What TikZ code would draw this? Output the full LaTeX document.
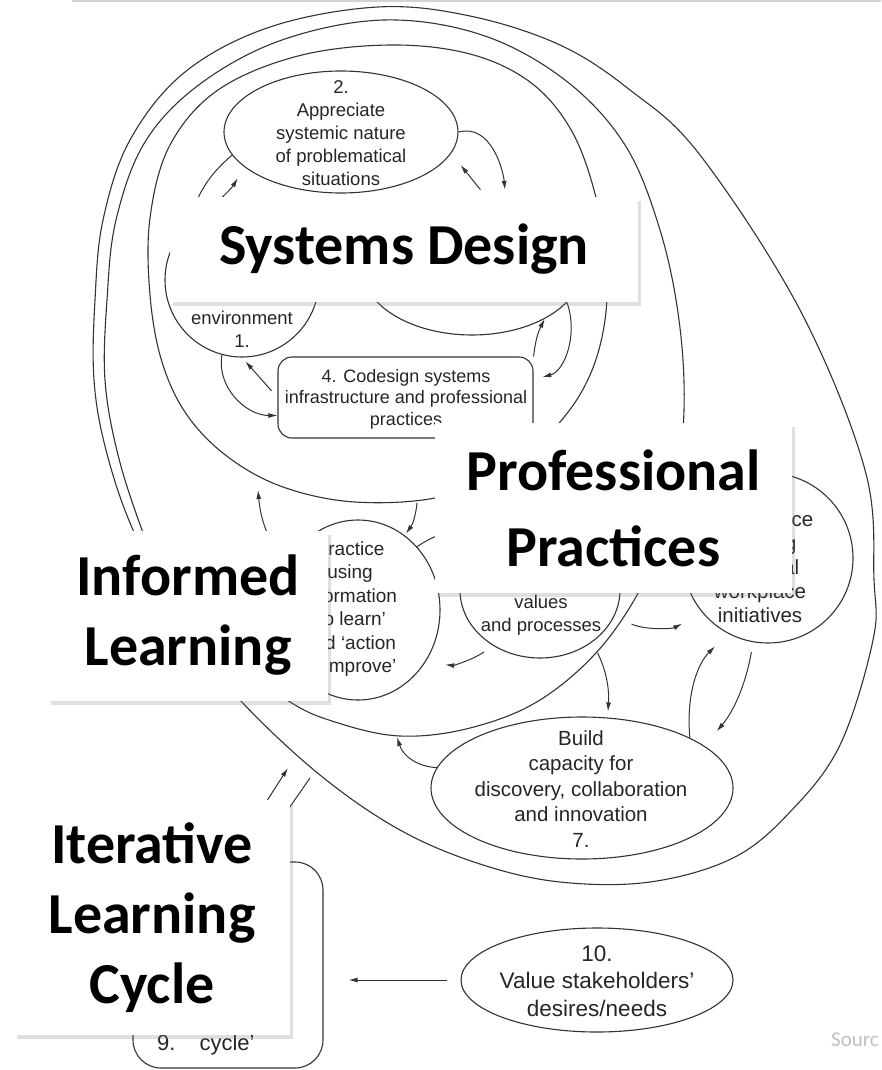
\documentclass[tikz,border=0pt]{standalone}
\usepackage{fontspec}
\setmainfont{Liberation Sans}
\newfontfamily\lblfont{Carlito}
\usetikzlibrary{calc,arrows.meta,shapes.geometric,shadows}

\begin{document}
\begin{tikzpicture}[
  x=1pt,y=-1pt,
  loop/.style={line width=1.1pt,draw=black!80},
  ell/.style={ellipse,draw=black!80,line width=1.1pt,inner sep=0pt,fill=white},
  txt/.style={align=center,text=black!85,inner sep=0pt,font=\fontsize{18.5}{23}\selectfont},
  arr/.style={-{Latex[length=9pt,width=5pt]},line width=1pt,draw=black!80},
  lbl/.style={fill=white,align=center,inner sep=0pt,font=\lblfont\bfseries\fontsize{58}{70}\selectfont,
    drop shadow={shadow xshift=3pt,shadow yshift=-4pt,opacity=0.25}},
  ]

  \clip (0,0) rectangle (881,1070);
  \draw[gray!35,line width=2pt] (72,1) -- (881,1);

  % the three loops
  \draw[loop] plot[smooth cycle,tension=0.6] coordinates {(378,7) (470,16) (560,45) (630,90) (700,155) (800,310) (865,470) (874,580) (873,640) (840,745) (790,812) (733,858) (650,882) (560,882) (480,864) (400,830) (320,775) (240,700) (183,628) (133,530) (106,450) (94,380) (95,300) (103,220) (130,140) (185,72) (270,27)};
  \draw[loop] plot[smooth cycle,tension=0.6] coordinates {(384,20) (482,35) (565,80) (625,145) (660,230) (679,320) (684,410) (674,495) (650,570) (603,645) (540,700) (470,728) (400,736) (335,722) (287,700) (215,645) (165,585) (142,530) (118,455) (105,380) (107,300) (116,220) (145,142) (200,84) (282,40)};
  \draw[loop] plot[smooth cycle,tension=0.6] coordinates {(390,45) (470,54) (530,82) (570,128) (594,190) (606,260) (605,320) (590,375) (560,422) (510,468) (440,497) (355,502) (283,487) (228,457) (187,415) (162,362) (150,295) (150,218) (170,145) (218,90) (298,56)};

  \coordinate (sd_bot) at (417,503);
  \coordinate (sd_left) at (258,490);
  \coordinate (il_bot) at (397,737);
  \coordinate (ilc_in) at (288,768);
  \coordinate (ilc_out) at (310,778);

  % stages
  \node (ell_1) [ell,minimum size=154pt] at (242,280) {};
  \node (txt_1) [txt] at (242,329) {environment\\1.};

  \node (ell_2) [ell,minimum width=234pt,minimum height=122pt] at (341,132) {};
  \node (txt_2) [txt] at (341,133) {2.\\Appreciate\\systemic nature\\of problematical\\situations};

  \node (ell_3) [ell,minimum width=220pt,minimum height=134pt] at (472,268) {};
  \node (txt_3) [txt,anchor=base] at (470,298) {professional processes};

  \node (box_4) [draw=black!80,line width=1.1pt,rounded corners=14pt,minimum width=255pt,minimum height=81pt,inner sep=0pt,fill=white] at (405.5,397.5) {};
  \node (txt_4) [txt,font=\fontsize{18}{21.5}\selectfont] at (406,399) {4. Codesign systems\\infrastructure and professional\\practices};

  \node (ell_5) [ell,minimum width=164pt,minimum height=180pt] at (358,610) {};
  \node (txt_5) [txt,font=\fontsize{19}{23.5}\selectfont] at (350,609) {Practice\\using\\information\\`to learn'\\and `action\\to improve'};

  \node (ell_6) [ell,minimum width=160pt,minimum height=136pt] at (540,590) {};
  \node (txt_6) [txt] at (541,615) {values\\and processes};

  \node (ell_7) [ell,minimum width=302pt,minimum height=142pt] at (582,788) {};
  \node (txt_7) [txt,font=\fontsize{20.5}{25.5}\selectfont] at (581,789) {Build\\capacity for\\discovery, collaboration\\and innovation\\7.};

  \node (ell_8) [ell,minimum size=170pt] at (768,558) {};
  \node (txt_8) [txt,font=\fontsize{20.5}{24}\selectfont] at (760,567) {8. Embrace\\learning\\in formal\\workplace\\initiatives};

  \node (box_9) [draw=black!80,line width=1.1pt,rounded corners=28pt,minimum width=190pt,minimum height=206pt,inner sep=0pt] at (228,965) {};
  \node (txt_9) [txt,font=\fontsize{22}{26}\selectfont,anchor=base west] at (157,1050) {9.\hspace{24pt}cycle'};

  \node (ell_10) [ell,minimum width=272pt,minimum height=104pt] at (597,980) {};
  \node (txt_10) [txt,font=\fontsize{22.5}{27.5}\selectfont] at (597,981) {10.\\Value stakeholders'\\desires/needs};

  % connectors
  \draw[arr,shorten >=14pt] (ell_2.0) to[out=15,in=95] (ell_3.62);
  \draw[arr,shorten <=15pt,shorten >=15pt] (ell_3.75) -- (ell_2.-11);
  \draw[arr] (ell_2.192) to[out=220,in=70] (ell_1.135);
  \draw[arr,shorten >=13pt] (ell_1.118) to[bend right=10] (ell_2.200);
  \draw[arr] (ell_1.-105) to[out=-100,in=180] (box_4.188);
  \draw[arr,shorten <=9pt,shorten >=5pt] (box_4.180) -- (ell_1.-90);
  \draw[arr] (box_4.north east) to[bend left=10] (ell_3.-35);
  \draw[arr,shorten >=9pt] (ell_3.-20) to[out=-70,in=15] (box_4.8);
  \draw[arr,shorten >=2pt] (sd_bot) to[bend left=15] (ell_5.58);
  \draw[arr] (ell_5.150) to[out=120,in=-85] (sd_left);
  \draw[arr] (ell_5.47) to[out=35,in=160] (ell_6.135);
  \draw[arr,shorten <=11pt,shorten >=20pt] (ell_6.230) to[bend left=20] (ell_5.-38);
  \draw[arr,shorten <=19pt,shorten >=23pt] (ell_6.-20) to[bend right=25] (ell_8.220);
  \draw[arr,shorten <=12pt,shorten >=6pt] (ell_6.-45) to[bend left=15] (ell_7.70);
  \draw[arr] (ell_7.172) to[bend left=35] (il_bot);
  \draw[arr,shorten >=18pt] (ell_7.25) to[bend left=25] (ell_8.242);
  \draw[arr,shorten <=10pt,shorten >=19pt] (ell_8.260) to[bend left=15] (ell_7.19);
  \draw[arr] (box_9.north) -- (ilc_in);
  \draw[arr] (ilc_out) -- ($(box_9.north)+(24,0)$);
  \draw[arr,shorten <=13pt,shorten >=25pt] (ell_10.west) -- (ell_10.west -| box_9.east);

  % overlay labels
  \node (lbl_sys) [lbl,minimum width=468pt,minimum height=105pt] at (404,249.5) {Systems Design};
  \node (lbl_pro) [lbl,minimum width=357pt,minimum height=170pt,font=\lblfont\bfseries\fontsize{58}{76}\selectfont] at (613.5,508) {Professional\\Practices};
  \node (lbl_inf) [lbl,minimum width=280pt,minimum height=170pt] at (188,615.5) {Informed\\Learning};
  \node (lbl_ite) [lbl,minimum width=276pt,minimum height=235pt] at (152,917.5) {Iterative\\Learning\\Cycle};

  \node (src) [text=gray!50,inner sep=0pt,font=\lblfont\fontsize{21}{25}\selectfont,anchor=east] at (879,1040) {Sourc};
\end{tikzpicture}
\end{document}
